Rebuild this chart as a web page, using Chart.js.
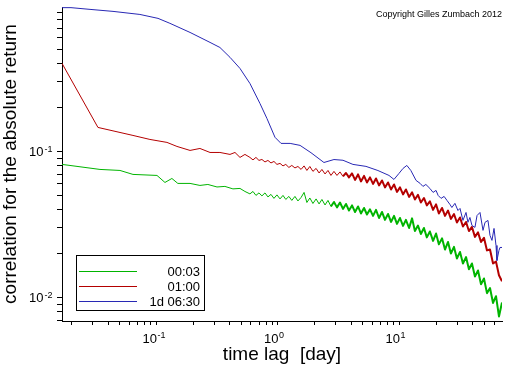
<!DOCTYPE html>
<html>
<head>
<meta charset="utf-8">
<script src="https://cdn.jsdelivr.net/npm/chart.js@4/dist/chart.umd.min.js"></script>
<style>
  html, body { margin: 0; padding: 0; background: #fff; }
  canvas { display: block; }
</style>
</head>
<body>
<canvas id="acfChart" width="512" height="366"></canvas>
<script>
// axis ranges (days / correlation)
var xMin = 0.0167, xMax = 69.8;
var yMin = 0.0069, yMax = 0.975;

// major ticks and their exponents
var xMajorTicks = [0.1, 1, 10];
var xTickExps = ['-1', '0', '1'];
var yMajorTicks = [0.01, 0.1];
var yTickExps = ['-2', '-1'];

var seriesNames = ['00:03', '01:00', '1d 06:30'];

// shared lag grid for the dense (noisy) part of the curves
var denseLags = [0.588, 0.623, 0.659, 0.698, 0.738, 0.782, 0.827, 0.876, 0.927, 0.981,
  1.04, 1.10, 1.16, 1.23, 1.30, 1.38, 1.46, 1.55, 1.64, 1.73,
  1.83, 1.94, 2.06, 2.18, 2.30, 2.44, 2.58, 2.73, 2.89, 3.06,
  3.24, 3.43, 3.63, 3.84, 4.07, 4.31, 4.56, 4.82, 5.11, 5.40,
  5.72, 6.06, 6.41, 6.79, 7.18, 7.60, 8.05, 8.52, 9.02, 9.54,
  10.1, 10.7, 11.3, 12.0, 12.7, 13.4, 14.2, 15.0, 15.9, 16.8,
  17.8, 18.9, 20.0, 21.1, 22.4, 23.7, 25.1, 26.5, 28.1, 29.7,
  31.5, 33.3, 35.3, 37.3, 39.5, 41.8, 44.3, 46.9, 49.6, 52.5,
  55.6, 58.9, 62.3, 65.9, 69.8];

// 00:03 (green)
var greenLagsEarly = [0.0167, 0.0343, 0.0501, 0.0641, 0.101, 0.1175, 0.134, 0.150,
  0.189, 0.228, 0.265, 0.315, 0.366, 0.426, 0.487, 0.535];
var greenEarly = [0.0815, 0.0753, 0.0741, 0.0696, 0.0685, 0.0613, 0.0653, 0.0604,
  0.0604, 0.0585, 0.0594, 0.0571, 0.0576, 0.0554, 0.0558, 0.0532];
var greenDense = [0.0512, 0.0532, 0.0500, 0.0520, 0.0496, 0.0520, 0.0488, 0.0508, 0.0477, 0.0504,
  0.0473, 0.0500, 0.0469, 0.0492, 0.0462, 0.0492, 0.0458, 0.0484, 0.0524, 0.0447,
  0.0480, 0.0440, 0.0473, 0.0437, 0.0469, 0.0430, 0.0462, 0.0420, 0.0451, 0.0414,
  0.0447, 0.0404, 0.0437, 0.0394, 0.0427, 0.0385, 0.0420, 0.0376, 0.0410, 0.0370,
  0.0401, 0.0362, 0.0398, 0.0350, 0.0385, 0.0340, 0.0373, 0.0329, 0.0362, 0.0319,
  0.0350, 0.0309, 0.0340, 0.0299, 0.0348, 0.0285, 0.0311, 0.0272, 0.0299, 0.0258,
  0.0283, 0.0244, 0.0274, 0.0231, 0.0254, 0.0213, 0.0240, 0.0200, 0.0222, 0.0185,
  0.0205, 0.0171, 0.0189, 0.0156, 0.0171, 0.0139, 0.0153, 0.0123, 0.0135, 0.0107,
  0.0116, 0.00917, 0.0102, 0.00741, 0.00924];

// 01:00 (red)
var redLagsEarly = [0.0167, 0.0330, 0.0641, 0.0884, 0.122, 0.1475, 0.189, 0.228,
  0.276, 0.333, 0.403, 0.443, 0.487, 0.535];
var redEarly = [0.401, 0.146, 0.1287, 0.1208, 0.1153, 0.1082, 0.1016, 0.1048,
  0.0984, 0.0984, 0.0954, 0.0984, 0.0910, 0.0954];
var redDense = [0.0910, 0.0875, 0.0910, 0.0868, 0.0881, 0.0847, 0.0868, 0.0834, 0.0854, 0.0815,
  0.0828, 0.0796, 0.0815, 0.0777, 0.0802, 0.0771, 0.0789, 0.0753, 0.0796, 0.0741,
  0.0789, 0.0730, 0.0765, 0.0712, 0.0753, 0.0701, 0.0741, 0.0685, 0.0730, 0.0685,
  0.0724, 0.0674, 0.0712, 0.0664, 0.0707, 0.0638, 0.0696, 0.0623, 0.0680, 0.0613,
  0.0664, 0.0599, 0.0653, 0.0585, 0.0633, 0.0567, 0.0613, 0.0549, 0.0594, 0.0528,
  0.0567, 0.0508, 0.0549, 0.0488, 0.0524, 0.0469, 0.0504, 0.0447, 0.0480, 0.0427,
  0.0455, 0.0398, 0.0434, 0.0376, 0.0410, 0.0362, 0.0394, 0.0345, 0.0373, 0.0326,
  0.0353, 0.0306, 0.0329, 0.0285, 0.0304, 0.0260, 0.0279, 0.0240, 0.0256, 0.0210,
  0.0213, 0.0171, 0.0176, 0.0142, 0.0129];

// 1d 06:30 (blue)
var blueLags = [0.0167, 0.0198, 0.0284, 0.0439, 0.0731, 0.103, 0.129, 0.189, 0.276, 0.333,
  0.403, 0.487, 0.588, 0.711, 0.812, 0.945, 1.06, 1.26, 1.52, 1.87,
  2.39, 2.89, 3.43, 4.14, 5.30, 6.65, 8.20, 9.01, 9.91, 10.7,
  11.5, 12.4, 13.7, 14.8, 15.6, 16.5, 17.8, 18.9, 20.0, 20.8,
  22.0, 23.3, 24.6, 26.0, 27.0, 28.6, 30.3, 31.5, 33.3, 35.3,
  36.6, 38.0, 39.5, 41.8, 43.5, 46.0, 48.7, 50.6, 53.5, 55.6,
  57.7, 60.0, 62.3, 63.4, 65.9, 67.2, 69.8];
var blueValues = [0.965, 0.965, 0.939, 0.910, 0.867, 0.815, 0.754, 0.653, 0.558, 0.515,
  0.441, 0.370, 0.292, 0.213, 0.168, 0.125, 0.1135, 0.1135, 0.110, 0.098,
  0.084, 0.088, 0.087, 0.0815, 0.079, 0.074, 0.0685, 0.0643, 0.0707, 0.0765,
  0.0802, 0.0741, 0.0633, 0.0604, 0.0576, 0.0594, 0.0558, 0.0524, 0.0541, 0.050,
  0.0477, 0.0492, 0.0462, 0.0434, 0.0413, 0.0441, 0.0394, 0.0407, 0.0337, 0.0382,
  0.0327, 0.0353, 0.0311, 0.0302, 0.0364, 0.0382, 0.0288, 0.0327, 0.0337, 0.0266,
  0.0246, 0.0297, 0.0227, 0.0179, 0.0210, 0.0220, 0.0220];

var FONT = '"Liberation Sans", Arial, sans-serif';

function pairs(xs, ys) {
  return xs.map(function(x, i) { return {x: x, y: ys[i]}; });
}

// 1..9 x 10^k ticks inside [lo, hi]
function logTicks(lo, hi) {
  var out = [];
  for (var e = -3; e <= 2; e++) {
    for (var m = 1; m <= 9; m++) {
      var v = m * Math.pow(10, e);
      if (v >= lo * 0.999 && v <= hi * 1.001) out.push({value: v});
    }
  }
  return out;
}

// noisy tail of the sampled curves reads as a thick band
function bandWidth(fromLag) {
  return function(c) { return c.p0.parsed.x >= fromLag ? 2 : 1; };
}

var extraText = {
  id: 'extraText',
  afterDraw: function(chart) {
    var ctx = chart.ctx;
    var xs = chart.scales.x, ys = chart.scales.y;
    var area = chart.chartArea;
    ctx.save();
    ctx.fillStyle = '#000';

    // x tick labels 10^n
    xMajorTicks.forEach(function(v, i) {
      var px = xs.getPixelForValue(v);
      ctx.font = '13px ' + FONT;
      ctx.textAlign = 'right';
      ctx.textBaseline = 'alphabetic';
      ctx.fillText('10', px + 0.5, area.bottom + 22);
      ctx.font = '9px ' + FONT;
      ctx.textAlign = 'left';
      ctx.fillText(xTickExps[i], px + 1, area.bottom + 16.5);
    });

    // y tick labels
    yMajorTicks.forEach(function(v, i) {
      var py = ys.getPixelForValue(v);
      ctx.font = '13px ' + FONT;
      ctx.textAlign = 'right';
      ctx.textBaseline = 'alphabetic';
      ctx.fillText('10', area.left - 18.5, py + 5);
      ctx.font = '9px ' + FONT;
      ctx.textAlign = 'left';
      ctx.fillText(yTickExps[i], area.left - 17.5, py + 0.5);
    });

    // copyright
    ctx.font = '9px ' + FONT;
    ctx.textAlign = 'right';
    ctx.fillText('Copyright Gilles Zumbach 2012', area.right, 16.5);

    // legend box
    ctx.fillStyle = '#fff';
    ctx.fillRect(76.5, 255.5, 128, 55);
    ctx.strokeStyle = '#000';
    ctx.lineWidth = 1;
    ctx.strokeRect(76.5, 255.5, 128, 55);
    chart.data.datasets.forEach(function(ds, i) {
      var rowY = 271 + i * 15;
      ctx.strokeStyle = ds.borderColor;
      ctx.beginPath();
      ctx.moveTo(79, rowY + 0.5);
      ctx.lineTo(137, rowY + 0.5);
      ctx.stroke();
      ctx.fillStyle = '#000';
      ctx.font = '13px ' + FONT;
      ctx.textAlign = 'right';
      ctx.fillText(ds.label, 200, rowY + 5);
    });
    ctx.restore();
  }
};

var ctx = document.getElementById('acfChart');
var acfChart = new Chart(ctx, {
  type: 'line',
  data: {
    datasets: [
      {
        label: seriesNames[0],
        data: pairs(greenLagsEarly.concat(denseLags), greenEarly.concat(greenDense)),
        borderColor: '#00b400',
        segment: { borderWidth: bandWidth(2.7) },
        order: 2
      },
      {
        label: seriesNames[1],
        data: pairs(redLagsEarly.concat(denseLags), redEarly.concat(redDense)),
        borderColor: '#b40000',
        segment: { borderWidth: bandWidth(3.4) },
        order: 1
      },
      {
        label: seriesNames[2],
        data: pairs(blueLags, blueValues),
        borderColor: '#2828b4',
        order: 0
      }
    ]
  },
  options: {
    responsive: false,
    animation: false,
    layout: { padding: { top: 7, right: 10, left: 0, bottom: 0 } },
    elements: {
      point: { radius: 0 },
      line: { borderWidth: 1, tension: 0, borderJoinStyle: 'round', fill: false }
    },
    plugins: {
      legend: { display: false },
      tooltip: { enabled: false }
    },
    scales: {
      x: {
        type: 'logarithmic',
        position: 'bottom',
        min: xMin,
        max: xMax,
        grid: { display: true, drawOnChartArea: false, drawTicks: true, tickLength: 4, color: '#000' },
        border: { display: true, color: '#000', width: 1 },
        ticks: { display: false },
        afterBuildTicks: function(s) { s.ticks = logTicks(xMin, xMax); },
        afterFit: function(s) { s.height = 45; },
        title: {
          display: true,
          text: 'time lag  [day]',
          color: '#000',
          font: { family: FONT, size: 19, lineHeight: 1 },
          padding: { top: 0, bottom: 1.5 }
        }
      },
      y: {
        type: 'logarithmic',
        position: 'left',
        min: yMin,
        max: yMax,
        grid: { display: true, drawOnChartArea: false, drawTicks: true, tickLength: 5, color: '#000' },
        border: { display: true, color: '#000', width: 1 },
        ticks: { display: false },
        afterBuildTicks: function(s) { s.ticks = logTicks(yMin, yMax); },
        afterFit: function(s) { s.width = 62; },
        title: {
          display: true,
          text: 'correlation for the absolute return',
          color: '#000',
          font: { family: FONT, size: 19, lineHeight: 1 },
          padding: { top: 1, bottom: 0 }
        }
      }
    }
  },
  plugins: [extraText]
});
</script>
</body>
</html>
